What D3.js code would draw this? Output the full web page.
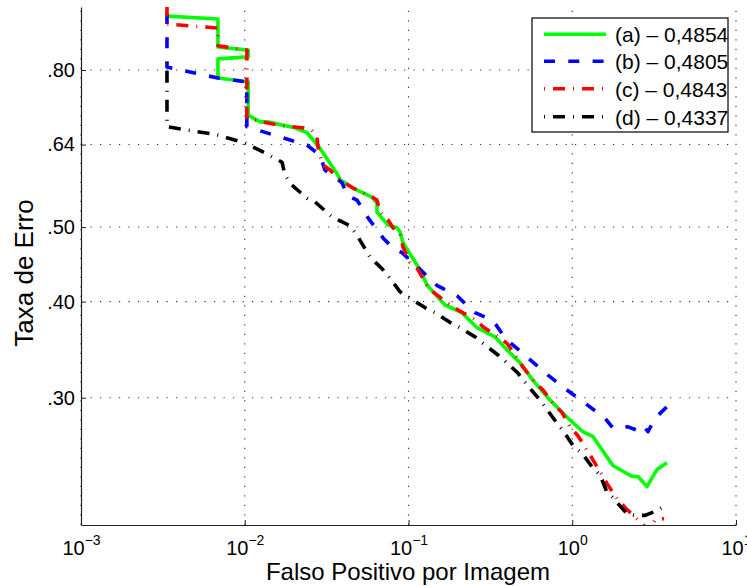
<!DOCTYPE html>
<html><head><meta charset="utf-8">
<script src="https://cdn.jsdelivr.net/npm/d3@7"></script>
<style>body{margin:0;background:#fff}svg{display:block}text{font-family:"Liberation Sans",Arial,sans-serif}</style>
</head><body>
<svg id="c" width="747" height="586"></svg>
<script>
// Data (FPPI, miss rate)
const fppiA = [0.00335,0.00686,0.00686,0.0105,0.0105,0.00686,0.00686,0.0105,0.0105,0.0124,0.0137,0.0203,0.0240,0.0288,0.0371,0.0382,0.0458,0.0598,0.0642,0.0642,0.0749,0.0851,0.0887,0.0926,0.1175,0.130,0.167,0.212,0.262,0.337,0.400,0.480,0.576,0.731,0.929,1.16,1.34,1.77,2.32,2.52,2.86,3.29,3.79];
const mrA   = [0.940,0.932,0.857,0.849,0.832,0.827,0.781,0.772,0.699,0.685,0.685,0.673,0.663,0.633,0.584,0.576,0.562,0.547,0.537,0.523,0.503,0.499,0.493,0.477,0.440,0.420,0.396,0.387,0.370,0.360,0.346,0.333,0.316,0.298,0.283,0.271,0.267,0.245,0.237,0.237,0.230,0.242,0.247];

const fppiB = [0.00335,0.00335,0.00686,0.0103,0.0103,0.0124,0.0171,0.0240,0.0288,0.0309,0.0393,0.0421,0.0485,0.0566,0.0699,0.0793,0.0913,0.113,0.149,0.201,0.231,0.255,0.302,0.337,0.378,0.417,0.537,0.711,0.929,1.20,1.59,1.77,2.19,2.52,2.71,2.90,3.20,3.84];
const mrB   = [0.949,0.807,0.781,0.772,0.675,0.667,0.653,0.639,0.620,0.593,0.571,0.550,0.542,0.514,0.484,0.471,0.463,0.444,0.420,0.406,0.394,0.387,0.381,0.375,0.362,0.354,0.338,0.321,0.307,0.295,0.282,0.274,0.275,0.272,0.276,0.271,0.282,0.293];

const fppiC = [0.00335,0.00335,0.00686,0.00686,0.0103,0.0103,0.0127,0.0169,0.0224,0.0257,0.0276,0.0280,0.0300,0.0332,0.0382,0.0458,0.0598,0.0642,0.0670,0.0749,0.0804,0.0887,0.0926,0.102,0.113,0.132,0.145,0.174,0.201,0.255,0.285,0.352,0.400,0.460,0.500,0.592,0.663,0.763,0.866,0.969,1.08,1.28,1.54,1.65,1.90,2.10,2.52,2.78,2.90,3.20,3.63];
const mrC   = [1.0,0.918,0.907,0.860,0.849,0.693,0.685,0.677,0.673,0.668,0.655,0.635,0.602,0.593,0.576,0.562,0.547,0.542,0.523,0.511,0.499,0.491,0.471,0.450,0.442,0.417,0.410,0.398,0.390,0.379,0.371,0.360,0.353,0.338,0.329,0.314,0.307,0.295,0.287,0.275,0.268,0.253,0.237,0.231,0.221,0.216,0.208,0.204,0.201,0.208,0.209];

const fppiD = [0.00335,0.00335,0.00677,0.0100,0.0133,0.0169,0.0176,0.0194,0.0240,0.0269,0.0346,0.0393,0.0439,0.0485,0.0582,0.0699,0.0771,0.0887,0.102,0.126,0.145,0.179,0.206,0.255,0.285,0.352,0.400,0.466,0.529,0.618,0.682,0.807,0.878,1.01,1.15,1.32,1.48,1.63,1.75,2.16,2.42,2.78,3.29,3.53];
const mrD   = [0.820,0.675,0.659,0.643,0.624,0.607,0.584,0.567,0.545,0.539,0.514,0.508,0.502,0.488,0.457,0.440,0.429,0.412,0.404,0.393,0.387,0.376,0.370,0.360,0.353,0.341,0.333,0.323,0.312,0.300,0.292,0.278,0.272,0.260,0.254,0.244,0.238,0.226,0.223,0.212,0.211,0.211,0.214,0.216];

const seriesNames = ["(a) \u2013 0,4854","(b) \u2013 0,4805","(c) \u2013 0,4843","(d) \u2013 0,4337"];
const xTicks = [1e-3,1e-2,1e-1,1e0,1e1];
const xTickExp = ["\u22123","\u22122","\u22121","0","1"];
const yTicks = [0.30,0.40,0.50,0.64,0.80];
const yTickLabels = [".30",".40",".50",".64",".80"];

const styles = [
  {color:"#00ff00", dash:null},
  {color:"#0000ff", dash:"11,13.3"},
  {color:"#ff0000", dash:"1,8,12,8"},
  {color:"#000000", dash:"1,8,12,8"}
];

const svg = d3.select("#c");
const L=81,R=736,T=7,B=525;
const x = d3.scaleLog().domain([1e-3,1e1]).range([L,R]);
const y = d3.scaleLog().domain([0.205,0.966]).range([B,T]);

// grid
const grid = svg.append("g").attr("stroke","#333").attr("stroke-width",1.1).attr("stroke-dasharray","1.2,8.3");
grid.selectAll("line.v").data(xTicks).join("line").attr("x1",d=>x(d)).attr("x2",d=>x(d)).attr("y1",B).attr("y2",T);
grid.selectAll("line.h").data(yTicks).join("line").attr("y1",d=>y(d)).attr("y2",d=>y(d)).attr("x1",L).attr("x2",R);

// axes
const gx = svg.append("g").attr("transform",`translate(0,${B})`)
  .call(d3.axisBottom(x).tickValues(xTicks).tickSize(-5).tickSizeOuter(0).tickFormat(""));
gx.selectAll(".tick text").each(function(d,i){
  const t=d3.select(this); t.text(null).attr("y",30).attr("dy",0).attr("font-size",20).attr("fill","#000");
  t.append("tspan").text("10");
  t.append("tspan").attr("dy",-10).attr("font-size",14).text(xTickExp[i]);
});
const gy = svg.append("g").attr("transform",`translate(${L},0)`)
  .call(d3.axisLeft(y).tickValues(yTicks).tickSize(-5).tickSizeOuter(0).tickPadding(6).tickFormat((d,i)=>yTickLabels[i]));
gy.selectAll(".tick text").attr("font-size",20).attr("fill","#000").attr("font-family","Liberation Sans, Arial, sans-serif");
svg.selectAll(".domain, .tick line").attr("stroke","#222");
svg.selectAll(".domain").attr("stroke-width",1.2);

// clip
svg.append("clipPath").attr("id","clip").append("rect").attr("x",L).attr("y",T).attr("width",R-L).attr("height",B-T);

const data = [
  d3.zip(fppiA,mrA), d3.zip(fppiB,mrB), d3.zip(fppiC,mrC), d3.zip(fppiD,mrD)
];
const line = d3.line().x(d=>x(d[0])).y(d=>y(d[1]));
const plot = svg.append("g").attr("clip-path","url(#clip)");
data.forEach((s,i)=>{
  plot.append("path").datum(s).attr("d",line).attr("fill","none")
    .attr("stroke",styles[i].color).attr("stroke-width",3.6)
    .attr("stroke-dasharray",styles[i].dash).attr("stroke-linejoin","round");
});

// legend
const lg = svg.append("g");
lg.append("rect").attr("x",532).attr("y",18).attr("width",196).attr("height",114).attr("fill","#fff").attr("stroke","#000").attr("stroke-width",1.2);
const ly = [34.3,61.3,88.7,116.7];
seriesNames.forEach((n,i)=>{
  lg.append("line").attr("x1",544).attr("x2",606).attr("y1",ly[i]).attr("y2",ly[i])
    .attr("stroke",styles[i].color).attr("stroke-width",3.6).attr("stroke-dasharray",styles[i].dash);
  lg.append("text").attr("x",615).attr("y",ly[i]+8).attr("font-size",21).text(n);
});

// axis labels
svg.append("text").attr("x",408).attr("y",580).attr("text-anchor","middle").attr("font-size",24).text("Falso Positivo por Imagem");
svg.append("text").attr("transform","translate(33,273) rotate(-90)").attr("text-anchor","middle").attr("font-size",26).text("Taxa de Erro");
</script>
</body></html>
